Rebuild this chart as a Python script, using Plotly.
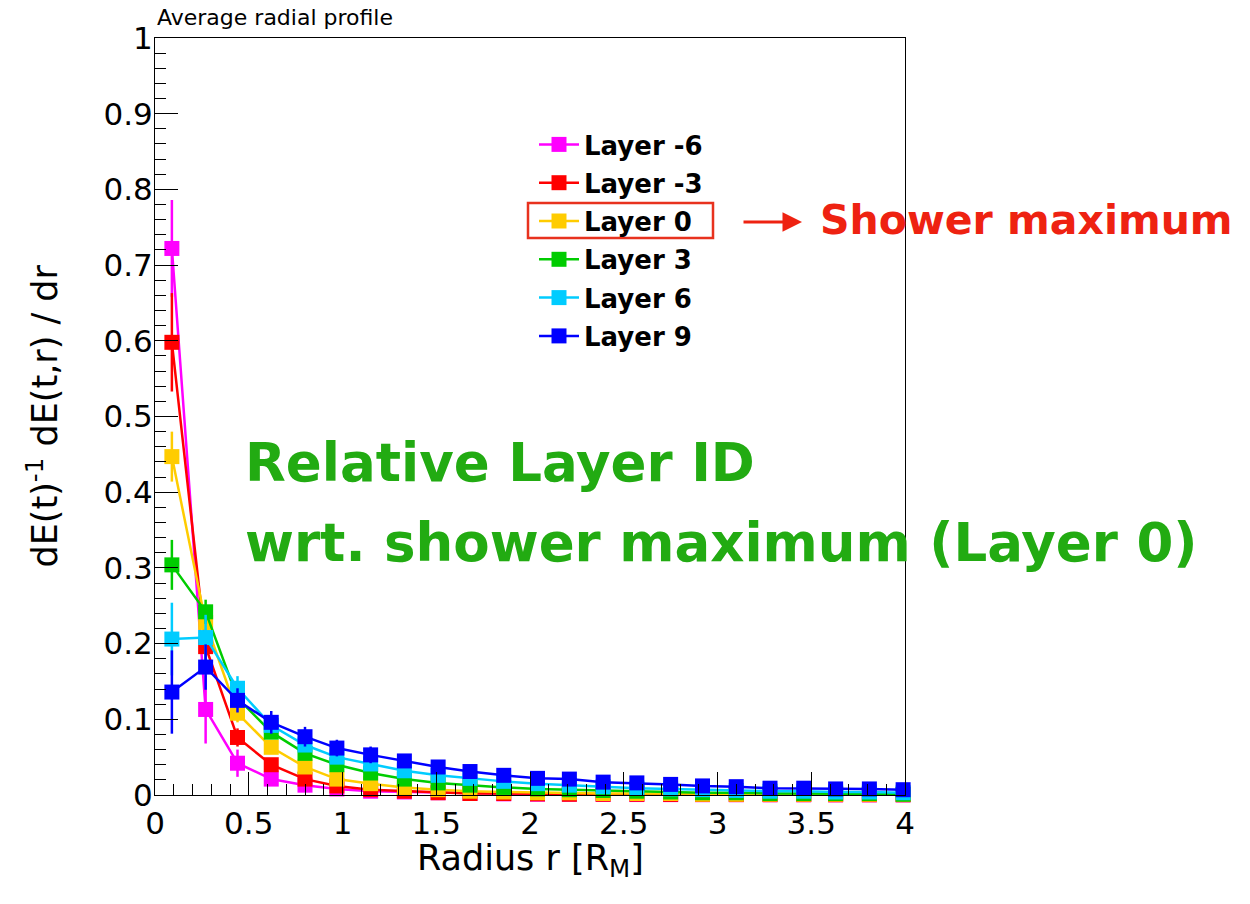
import plotly.graph_objects as go

# Radial bin centres in units of the Moliere radius
radius = [0.09, 0.27, 0.44, 0.62, 0.80, 0.97, 1.15, 1.33, 1.51, 1.68, 1.86, 2.04,
          2.21, 2.39, 2.57, 2.75, 2.92, 3.10, 3.28, 3.46, 3.63, 3.81, 3.99]

layer_names = ["Layer -6", "Layer -3", "Layer 0", "Layer 3", "Layer 6", "Layer 9"]
layer_colors = ["#ff00ff", "#ff0000", "#ffcc00", "#00cc00", "#00ccff", "#0000ff"]

# Normalised radial energy density per layer
profile_m6 = [0.722, 0.113, 0.042, 0.021, 0.013, 0.008, 0.005, 0.004, 0.003, 0.002, 0.0015, 0.001,
              0.001, 0.0008, 0.0006, 0.0005, 0.0004, 0.0004, 0.0003, 0.0003, 0.0002, 0.0002, 0.0002]
profile_m3 = [0.598, 0.196, 0.076, 0.040, 0.021, 0.012, 0.007, 0.005, 0.003, 0.002, 0.002, 0.0015,
              0.001, 0.001, 0.001, 0.0008, 0.0007, 0.0006, 0.0005, 0.0005, 0.0004, 0.0004, 0.0003]
profile_0 = [0.447, 0.228, 0.108, 0.063, 0.037, 0.021, 0.015, 0.010, 0.007, 0.005, 0.004, 0.003,
             0.003, 0.002, 0.002, 0.002, 0.001, 0.001, 0.001, 0.001, 0.001, 0.001, 0.001]
profile_3 = [0.304, 0.242, 0.128, 0.083, 0.055, 0.040, 0.029, 0.021, 0.016, 0.013, 0.010, 0.008,
             0.007, 0.006, 0.005, 0.004, 0.003, 0.003, 0.002, 0.002, 0.002, 0.002, 0.001]
profile_6 = [0.206, 0.208, 0.141, 0.092, 0.066, 0.050, 0.041, 0.032, 0.026, 0.022, 0.018, 0.015,
             0.013, 0.011, 0.009, 0.008, 0.007, 0.006, 0.005, 0.005, 0.004, 0.004, 0.003]
profile_9 = [0.136, 0.169, 0.125, 0.096, 0.077, 0.062, 0.053, 0.045, 0.037, 0.031, 0.026, 0.022,
             0.021, 0.017, 0.016, 0.014, 0.012, 0.011, 0.009, 0.009, 0.008, 0.008, 0.007]

# Statistical uncertainties
err_m6 = [0.064, 0.045, 0.018, 0.006, 0.003, 0.002, 0.001, 0.001, 0.001, 0.001, 0.001, 0.001,
          0.001, 0.001, 0.001, 0.001, 0.001, 0.001, 0.001, 0.001, 0.001, 0.001, 0.001]
err_m3 = [0.065, 0.022, 0.012, 0.005, 0.003, 0.002, 0.001, 0.001, 0.001, 0.001, 0.001, 0.001,
          0.001, 0.001, 0.001, 0.001, 0.001, 0.001, 0.001, 0.001, 0.001, 0.001, 0.001]
err_0 = [0.033, 0.020, 0.012, 0.006, 0.004, 0.003, 0.002, 0.001, 0.001, 0.001, 0.001, 0.001,
         0.001, 0.001, 0.001, 0.001, 0.001, 0.001, 0.001, 0.001, 0.001, 0.001, 0.001]
err_3 = [0.033, 0.016, 0.012, 0.007, 0.005, 0.004, 0.003, 0.002, 0.002, 0.001, 0.001, 0.001,
         0.001, 0.001, 0.001, 0.001, 0.001, 0.001, 0.001, 0.001, 0.001, 0.001, 0.001]
err_6 = [0.048, 0.030, 0.016, 0.009, 0.006, 0.005, 0.004, 0.003, 0.002, 0.002, 0.002, 0.001,
         0.001, 0.001, 0.001, 0.001, 0.001, 0.001, 0.001, 0.001, 0.001, 0.001, 0.001]
err_9 = [0.055, 0.030, 0.016, 0.015, 0.013, 0.011, 0.011, 0.006, 0.005, 0.004, 0.003, 0.003,
         0.002, 0.002, 0.002, 0.002, 0.001, 0.001, 0.001, 0.001, 0.001, 0.001, 0.001]

profiles = [profile_m6, profile_m3, profile_0, profile_3, profile_6, profile_9]
errors = [err_m6, err_m3, err_0, err_3, err_6, err_9]

# Plot-area geometry in pixels (used only to place the overlay text)
W, H = 1250, 904
L, R, T, B = 155, 905, 38, 795


def px(x):
    return (x - L) / (R - L)


def py(y):
    return (B - y) / (B - T)


fig = go.Figure()
for name, color, prof, err in zip(layer_names, layer_colors, profiles, errors):
    fig.add_trace(go.Scatter(
        x=radius, y=prof, name=name, mode="lines+markers",
        legendgroup=name,
        line=dict(color=color, width=2.5),
        marker=dict(symbol="square", size=15, color=color, line=dict(width=0)),
        error_y=dict(type="data", array=err, visible=True, thickness=2.5, width=0, color=color),
        cliponaxis=False,
    ))

axis_common = dict(
    showgrid=False, zeroline=False, showline=True, linecolor="black", linewidth=1,
    mirror=True, ticks="inside", ticklen=23, tickwidth=1, tickcolor="black",
    tickfont=dict(family="DejaVu Sans", size=31, color="black"),
)

fig.update_xaxes(range=[0, 4], tick0=0, dtick=0.5, ticklabelstandoff=1,
                 minor=dict(ticks="inside", ticklen=11, dtick=0.1, tickcolor="black", tickwidth=1),
                 **axis_common)
fig.update_yaxes(range=[0, 1], tick0=0, dtick=0.1, ticklabelstandoff=-5,
                 minor=dict(ticks="inside", ticklen=11, dtick=0.02, tickcolor="black", tickwidth=1),
                 **axis_common)

fig.update_layout(
    width=W, height=H,
    margin=dict(l=L, r=W - R, t=T, b=H - B),
    paper_bgcolor="white", plot_bgcolor="white",
    font=dict(family="DejaVu Sans", color="black"),
    legend=dict(x=px(534), y=py(121), xanchor="left", yanchor="top",
                bgcolor="rgba(0,0,0,0)", borderwidth=0,
                font=dict(family="DejaVu Sans", size=26, color="black", weight="bold"),
                itemwidth=40, tracegroupgap=1.5, traceorder="grouped"),
)

annotations = [
    dict(text="Average radial profile", x=0, y=py(18), xanchor="left", yanchor="middle",
         font=dict(size=22, color="black")),
    dict(text="Radius r [R<sub>M</sub>]", x=0.5, y=py(836), xanchor="center", yanchor="top",
         font=dict(size=35, color="black")),
    dict(text="dE(t)<sup>-1</sup> dE(t,r) / dr", x=px(42), y=0.5, xanchor="center",
         yanchor="middle", textangle=-90, font=dict(size=35, color="black")),
    dict(text="<b>Relative Layer ID</b>", x=px(243), y=py(462), xanchor="left", yanchor="middle",
         font=dict(size=53, color="#22ab12")),
    dict(text="<b>wrt. shower maximum (Layer 0)</b>", x=px(243), y=py(542), xanchor="left",
         yanchor="middle", font=dict(size=53, color="#22ab12")),
    dict(text="<b>Shower maximum</b>", x=px(818), y=py(220), xanchor="left", yanchor="middle",
         font=dict(size=41, color="#ee2211")),
    dict(text="", x=px(802), y=py(222), ax=-60, ay=0, showarrow=True, arrowhead=2,
         arrowsize=1.3, arrowwidth=3, arrowcolor="#ee2211", standoff=0, startstandoff=0),
]
for a in annotations:
    a.setdefault("xref", "paper")
    a.setdefault("yref", "paper")
    a.setdefault("showarrow", False)
    fig.add_annotation(**a)

# Box highlighting the shower-maximum layer in the legend
fig.add_shape(type="rect", xref="paper", yref="paper",
              x0=px(528), x1=px(713), y0=py(238), y1=py(203),
              line=dict(color="#e8321e", width=2.5), fillcolor="rgba(0,0,0,0)")

fig.write_html("out.html")
